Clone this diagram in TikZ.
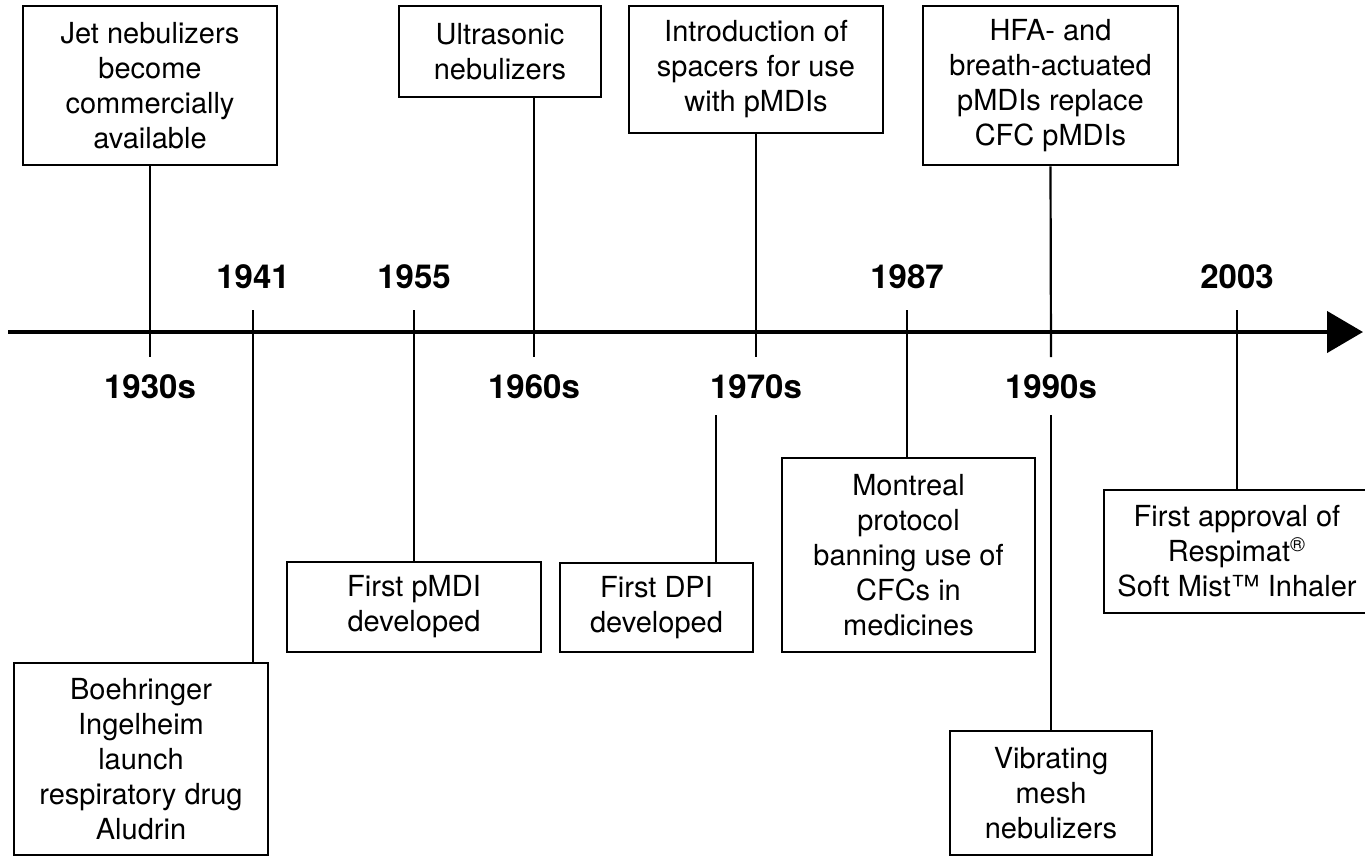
\documentclass[tikz,border=0pt]{standalone}
\usepackage{fontspec}
\setmainfont{TeX Gyre Heros}
\usetikzlibrary{arrows.meta}
\tikzset{
  evbox/.style={draw=black, line width=1.4pt, fill=white, align=center, inner sep=0pt,
    font=\fontsize{14.5pt}{17.5pt}\selectfont},
  conn/.style={line width=1.1pt},
  yearlab/.style={font=\fontsize{16.5pt}{18pt}\selectfont\bfseries, inner sep=0pt},
  axisline/.style={line width=2.2pt, -{Triangle[length=18pt,width=20.5pt]}}
}
\begin{document}
\begin{tikzpicture}[x=0.5pt,y=-0.5pt]
\useasboundingbox (0,0) rectangle (1365,857);
\begin{scope}
\clip (0,0) rectangle (1365,857);
% boxes
\node[evbox, minimum width=127pt, minimum height=79.5pt] (jet) at (150,85.5) {Jet nebulizers\\become\\commercially\\available};
\node[evbox, minimum width=127pt, minimum height=96pt] (boeh) at (141,759) {Boehringer\\Ingelheim\\launch\\respiratory drug\\Aludrin};
\node[evbox, minimum width=127pt, minimum height=45pt] (pmdi) at (414,607) {First pMDI\\developed};
\node[evbox, minimum width=101pt, minimum height=45.5pt] (ultra) at (500,51.5) {Ultrasonic\\nebulizers};
\node[evbox, minimum width=127pt, minimum height=63.5pt] (intro) at (756,69.5) {Introduction of\\spacers for use\\with pMDIs};
\node[evbox, minimum width=96.5pt, minimum height=44.5pt] (dpi) at (656.5,607.5) {First DPI\\developed};
\node[evbox, minimum width=126.5pt, minimum height=97pt] (mont) at (908.5,555) {Montreal\\protocol\\banning use of\\CFCs in\\medicines};
\node[evbox, minimum width=127.5pt, minimum height=79.5pt] (hfa) at (1050.5,85.5) {HFA- and\\breath-actuated\\pMDIs replace\\CFC pMDIs};
\node[evbox, minimum width=101pt, minimum height=62pt] (vib) at (1051,793) {Vibrating\\mesh\\nebulizers};
\node[evbox, minimum width=133pt, minimum height=61.5pt] (resp) at (1237,551.5) {First approval of\\Respimat\textsuperscript{®}\\Soft Mist™ Inhaler};
\end{scope}
% axis
\coordinate (axL) at (8,332);
\coordinate (axR) at (1363,332);
\draw[axisline] (axL) -- (axR);
% tick coordinates
\coordinate (t30) at (150,357);
\coordinate (t41) at (253,310);
\coordinate (t55) at (414,310);
\coordinate (t60) at (534,357);
\coordinate (t70) at (756,357);
\coordinate (t70b) at (716,415);
\coordinate (t87) at (907,310);
\coordinate (t90) at (1051,357);
\coordinate (t90b) at (1051,415);
\coordinate (t03) at (1237,310);
% connectors
\draw[conn] (jet.south) -- (t30);
\draw[conn] (t41) -- (t41 |- boeh.north);
\draw[conn] (t55) -- (t55 |- pmdi.north);
\draw[conn] (t60 |- ultra.south) -- (t60);
\draw[conn] (intro.south) -- (t70);
\draw[conn] (t70b) -- (t70b |- dpi.north);
\draw[conn] (t87) -- (t87 |- mont.north);
\draw[conn] (hfa.south) -- (t90);
\draw[conn] (t90b) -- (vib.north);
\draw[conn] (t03) -- (t03 |- resp.north);
% year labels
\node[yearlab] (y41) at (253,277) {1941};
\node[yearlab] (y55) at (414,277) {1955};
\node[yearlab] (y87) at (907,277) {1987};
\node[yearlab] (y03) at (1237,277) {2003};
\node[yearlab] (y30) at (150,387) {1930s};
\node[yearlab] (y60) at (534,387) {1960s};
\node[yearlab] (y70) at (756,387) {1970s};
\node[yearlab] (y90) at (1051,387) {1990s};
\end{tikzpicture}
\end{document}
